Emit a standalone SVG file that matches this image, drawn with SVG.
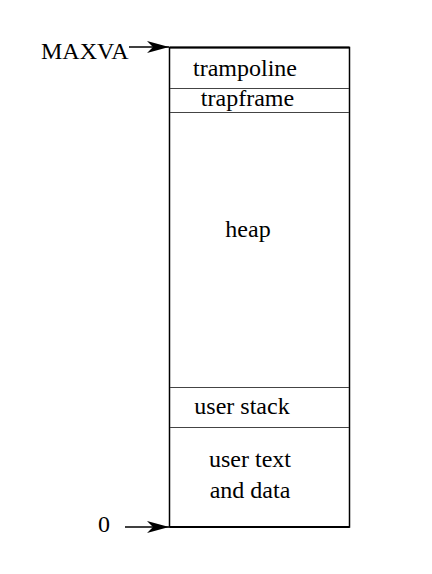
<svg xmlns="http://www.w3.org/2000/svg" width="432" height="574" viewBox="0 0 432 574">
<style>
text{font-family:"Liberation Serif","Times New Roman",serif;font-size:24px;fill:#000}
.mid{text-anchor:middle}
.sep{stroke:#444;stroke-width:1;fill:none}
.conn{stroke:#000;stroke-width:1.3;fill:none}
</style>
<defs>
<marker id="ah" viewBox="0 0 22 12" refX="22" refY="6" markerWidth="22" markerHeight="12" markerUnits="userSpaceOnUse" orient="auto">
<path d="M0,0 L22,6 L0,12 L6,6 Z" fill="#000"/>
</marker>
</defs>
<rect width="432" height="574" fill="#fff"/>
<g id="memory">
<rect x="169.5" y="47.5" width="180" height="479.5" fill="none" stroke="#000" stroke-width="1.5"/>
<line x1="169.5" y1="47.5" x2="349.5" y2="47.5" stroke="#000" stroke-width="2"/>
<line x1="169.5" y1="527" x2="349.5" y2="527" stroke="#000" stroke-width="2"/>
</g>
<g id="trampoline">
<text class="mid" x="245" y="76">trampoline</text>
<line class="sep" x1="170" y1="88.5" x2="349" y2="88.5"/>
</g>
<g id="trapframe">
<text class="mid" x="247.5" y="106">trapframe</text>
<line class="sep" x1="170" y1="112.5" x2="349" y2="112.5"/>
</g>
<g id="heap">
<text class="mid" x="248" y="237">heap</text>
</g>
<g id="userstack">
<line class="sep" x1="170" y1="387.5" x2="349" y2="387.5"/>
<text class="mid" x="242" y="414">user stack</text>
<line class="sep" x1="170" y1="427.5" x2="349" y2="427.5"/>
</g>
<g id="usertext">
<text class="mid" x="250" y="467">user text</text>
<text class="mid" x="250" y="498">and data</text>
</g>
<g id="labels">
<text x="41" y="59">MAXVA</text>
<text x="98" y="532">0</text>
</g>
<g id="connectors">
<line class="conn" x1="129" y1="47" x2="169" y2="47" marker-end="url(#ah)"/>
<line class="conn" x1="125" y1="527" x2="169" y2="527" marker-end="url(#ah)"/>
</g>
</svg>
